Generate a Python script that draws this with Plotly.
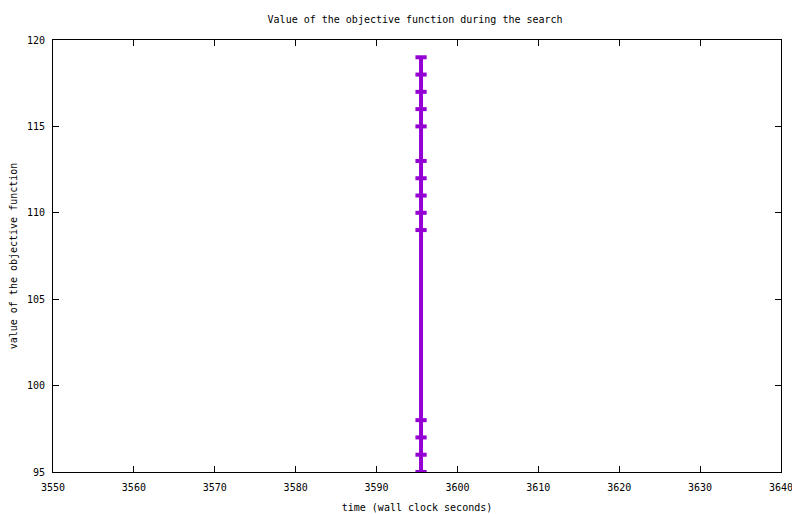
import plotly.graph_objects as go

# time (wall clock seconds) and objective value at each improvement
times = [3595.5, 3595.5, 3595.5, 3595.5, 3595.5, 3595.5, 3595.5,
         3595.5, 3595.5, 3595.5, 3595.5, 3595.5, 3595.5, 3595.5]
values = [119, 118, 117, 116, 115, 113, 112, 111, 110, 109, 98, 97, 96, 95]

x_ticks = [3550, 3560, 3570, 3580, 3590, 3600, 3610, 3620, 3630, 3640]
y_ticks = [95, 100, 105, 110, 115, 120]

font = dict(family="DejaVu Sans Mono", size=10, color="black")

fig = go.Figure()
fig.add_trace(go.Scatter(
    x=times, y=values,
    mode="lines+markers",
    line=dict(color="#9400d3", width=4),
    marker=dict(symbol="line-ew", size=8, line=dict(color="#9400d3", width=4)),
    showlegend=False,
))

axis_common = dict(
    showgrid=False, zeroline=False, automargin=False,
    showline=True, linecolor="black", linewidth=1, mirror="ticks",
    ticks="inside", ticklen=6, tickcolor="black",
    tickfont=font,
)

# the page body keeps its 8px margin, so the figure is a bit smaller
fig.update_layout(
    width=792, height=506,
    paper_bgcolor="white", plot_bgcolor="white",
    font=font,
    margin=dict(l=45, r=19, t=32, b=42),
    title=dict(text="Value of the objective function during the search",
               x=0.514, xanchor="center", y=0.978, yanchor="middle",
               font=font),
    xaxis=dict(axis_common, range=[3550, 3640], tickvals=x_ticks,
               ticklabelstandoff=6,
               title=dict(text="time (wall clock seconds)", font=font, standoff=11)),
    yaxis=dict(axis_common, range=[95, 120], tickvals=y_ticks,
               ticklabelstandoff=5,
               title=dict(text="value of the objective function", font=font, standoff=10)),
)

fig.write_html("out.html")
